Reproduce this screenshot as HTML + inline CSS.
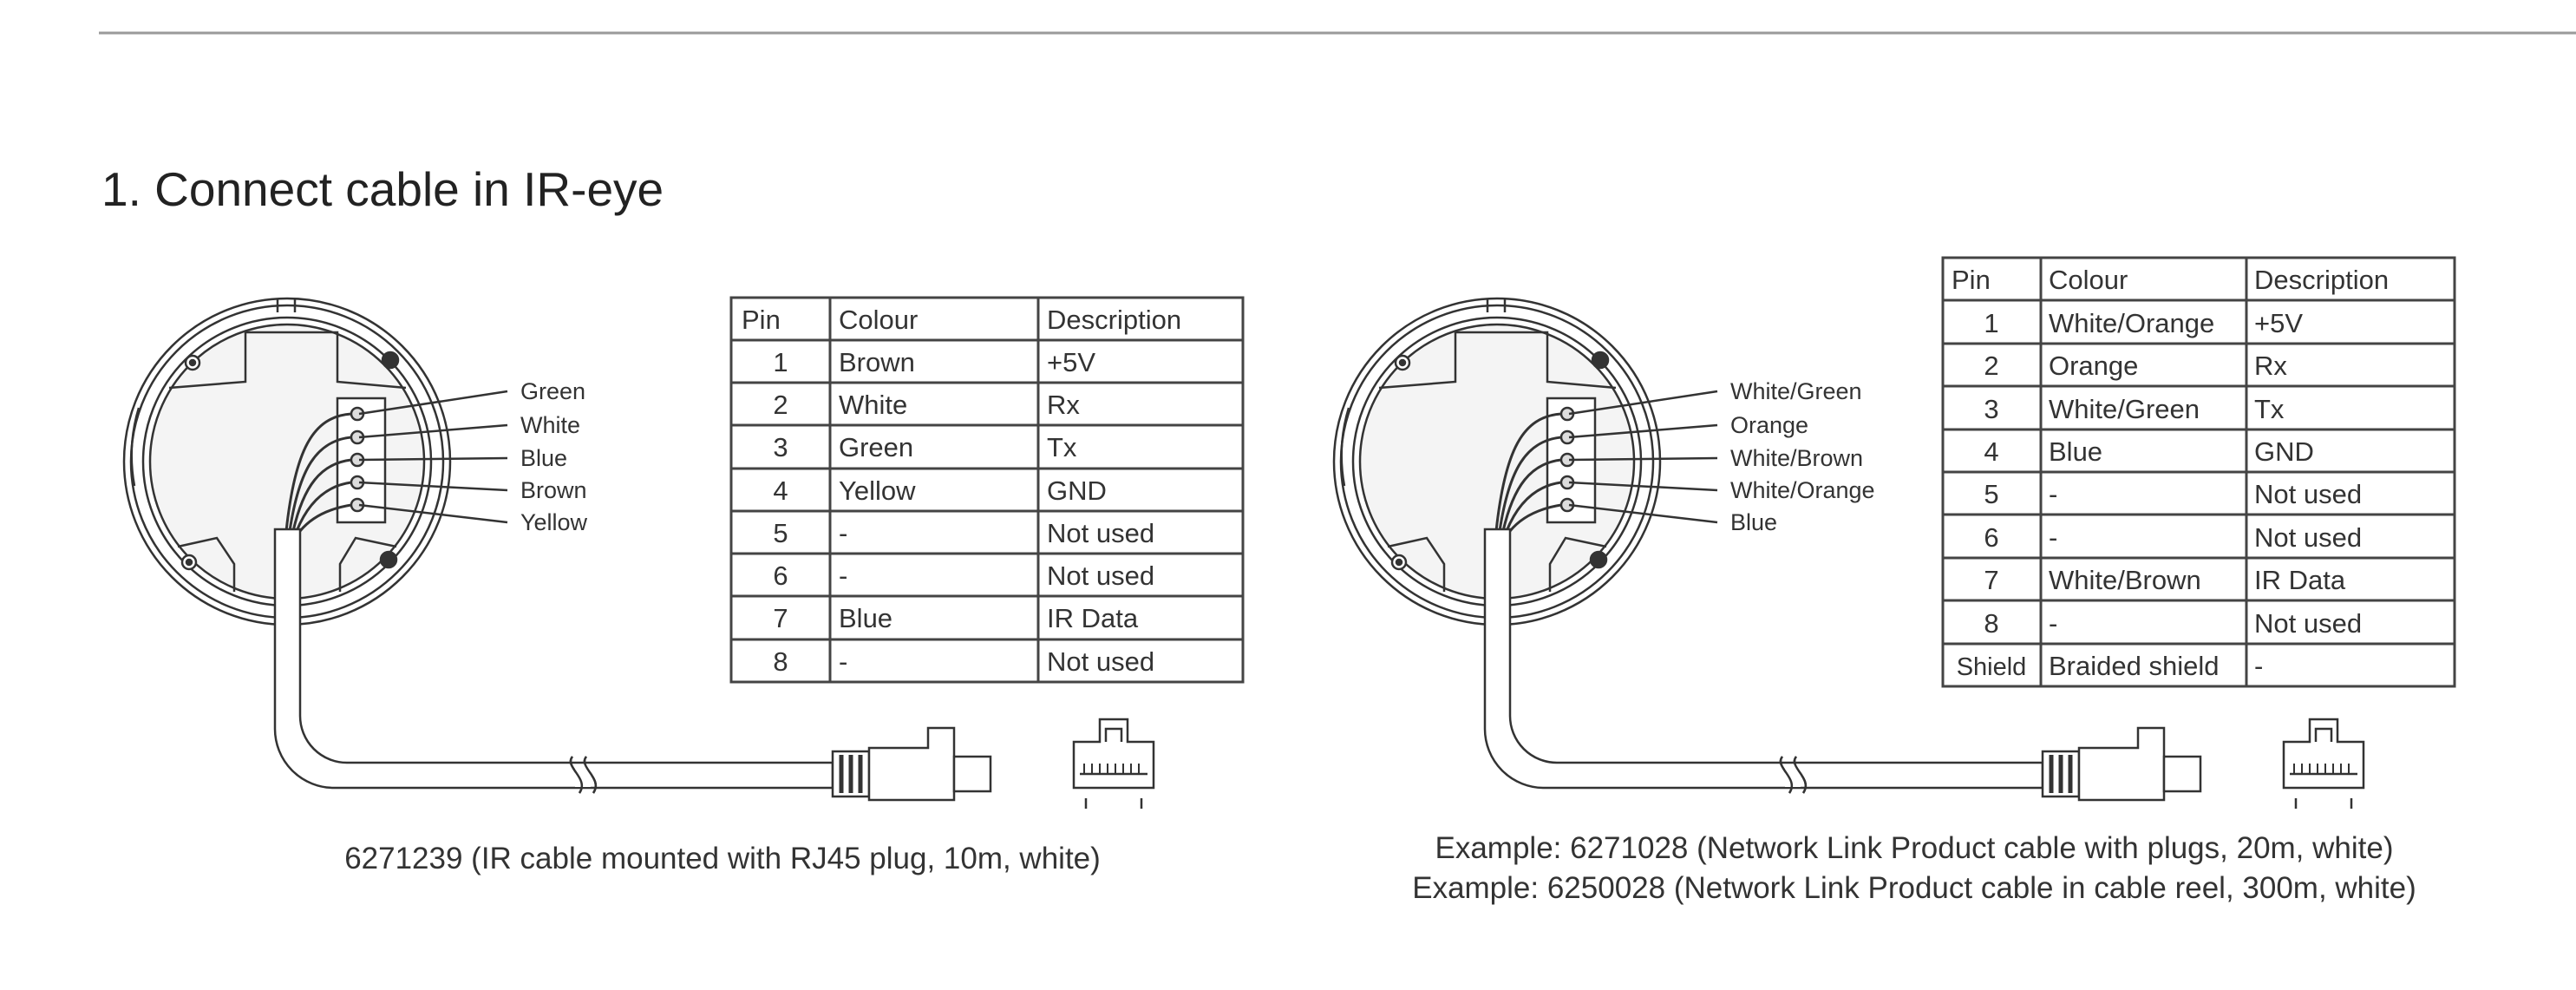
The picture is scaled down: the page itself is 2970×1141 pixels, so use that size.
<!DOCTYPE html>
<html><head><meta charset="utf-8"><style>
body{margin:0;background:#fff;width:2970px;height:1136px;overflow:hidden}
svg text{font-family:"Liberation Sans",sans-serif;fill:#333}
</style></head><body>
<svg width="2970" height="1136" viewBox="0 0 2970 1136" xmlns="http://www.w3.org/2000/svg">
<defs>
<g id="dev" stroke="#333" fill="none" stroke-width="2.5">
  <circle cx="331" cy="532" r="188" fill="#fff"/>
  <circle cx="331" cy="532" r="180"/>
  <circle cx="331" cy="532" r="166"/>
  <circle cx="331" cy="532" r="158" fill="#f4f4f4"/>
  <path d="M195,447 L283,440 L283,383 L389,383 L389,440 L468,447" fill="none"/>
  <path d="M205,630 L250,620 L270,650 L270,682" />
  <path d="M457,630 L410,620 L392,650 L392,682" />
  <path d="M320,345 L320,360 M340,345 L340,360"/>
  <circle cx="222" cy="418" r="8" fill="#fff"/><circle cx="222" cy="418" r="3" fill="#333"/>
  <circle cx="450" cy="415" r="9" fill="#333"/>
  <circle cx="218" cy="648" r="8" fill="#fff"/><circle cx="218" cy="648" r="3" fill="#333"/>
  <circle cx="448" cy="645" r="9" fill="#333"/>
  <path d="M160,470 A190,190 0 0 0 155,560" />
  <rect x="389" y="459" width="55" height="143" fill="#fff"/>
  <g fill="#ddd">
    <circle cx="412" cy="477" r="7"/><circle cx="412" cy="504" r="7"/><circle cx="412" cy="530" r="7"/><circle cx="412" cy="556" r="7"/><circle cx="412" cy="582" r="7"/>
  </g>
  <g stroke-width="3">
    <path d="M405,477 C360,480 340,520 330,612"/>
    <path d="M405,504 C365,508 345,540 334,612"/>
    <path d="M405,530 C370,534 350,560 338,612"/>
    <path d="M405,556 C375,560 355,580 342,612"/>
    <path d="M405,582 C380,586 360,595 346,612"/>
  </g>
  <g stroke-width="2.5">
    <line x1="414" y1="477" x2="585" y2="451"/>
    <line x1="414" y1="504" x2="585" y2="490"/>
    <line x1="414" y1="530" x2="585" y2="528"/>
    <line x1="414" y1="556" x2="585" y2="565"/>
    <line x1="414" y1="582" x2="585" y2="602"/>
  </g>
  <path d="M317,610 L317,840 A68,68 0 0 0 385,908 L960,908 L960,879 L400,879 A54,54 0 0 1 346,825 L346,610 Z" fill="#fff"/>
  <path d="M660,872 C650,884 680,897 668,914 M676,872 C666,884 696,897 684,914" stroke-width="2.5"/>
  <rect x="663" y="881" width="18" height="26" fill="#fff" stroke="none"/>
  <path d="M660,872 C650,884 680,897 668,914 M676,872 C666,884 696,897 684,914" stroke-width="2.5"/>
  <rect x="960" y="866" width="42" height="52" fill="#fff"/>
  <g stroke-width="5"><line x1="970" y1="870" x2="970" y2="914"/><line x1="981" y1="870" x2="981" y2="914"/><line x1="992" y1="870" x2="992" y2="914"/></g>
  <path d="M1002,862 L1070,862 L1070,839 L1100,839 L1100,922 L1002,922 Z" fill="#fff"/>
  <rect x="1100" y="872" width="42" height="40" fill="#fff"/>
  <path d="M1238,908 L1238,855 L1268,855 L1268,829 L1300,829 L1300,855 L1330,855 L1330,908 Z" fill="#fff"/>
  <path d="M1275,855 L1275,840 L1293,840 L1293,855"/>
  <path d="M1245,892 L1323,892" />
  <g stroke-width="2"><line x1="1250" y1="880" x2="1250" y2="892"/><line x1="1259" y1="880" x2="1259" y2="892"/><line x1="1268" y1="880" x2="1268" y2="892"/><line x1="1277" y1="880" x2="1277" y2="892"/><line x1="1286" y1="880" x2="1286" y2="892"/><line x1="1295" y1="880" x2="1295" y2="892"/><line x1="1304" y1="880" x2="1304" y2="892"/><line x1="1313" y1="880" x2="1313" y2="892"/></g>
  <line x1="1252" y1="920" x2="1252" y2="932"/><line x1="1316" y1="920" x2="1316" y2="932"/>
</g>
</defs>
<line x1="114" y1="38" x2="2970" y2="38" stroke="#9a9a9a" stroke-width="3"/>
<text x="117" y="237" font-size="55" style="fill:#222">1. Connect cable in IR-eye</text>
<use href="#dev"/>
<use href="#dev" transform="translate(1395,0)"/>
<g font-size="27">
<text x="600" y="460">Green</text><text x="600" y="499">White</text><text x="600" y="537">Blue</text><text x="600" y="574">Brown</text><text x="600" y="611">Yellow</text>
<text x="1995" y="460">White/Green</text><text x="1995" y="499">Orange</text><text x="1995" y="537">White/Brown</text><text x="1995" y="574">White/Orange</text><text x="1995" y="611">Blue</text>
</g>
<g stroke="#444" stroke-width="3" fill="none">
<rect x="843" y="343" width="590" height="443"/>
<line x1="957" y1="343" x2="957" y2="786"/><line x1="1197" y1="343" x2="1197" y2="786"/>
<line x1="843" y1="392" x2="1433" y2="392"/><line x1="843" y1="441" x2="1433" y2="441"/><line x1="843" y1="490" x2="1433" y2="490"/><line x1="843" y1="540" x2="1433" y2="540"/><line x1="843" y1="589" x2="1433" y2="589"/><line x1="843" y1="638" x2="1433" y2="638"/><line x1="843" y1="687" x2="1433" y2="687"/><line x1="843" y1="737" x2="1433" y2="737"/>
</g>
<g font-size="31">
<text x="855" y="379">Pin</text><text x="967" y="379">Colour</text><text x="1207" y="379">Description</text>
<g text-anchor="middle"><text x="900" y="428">1</text><text x="900" y="477">2</text><text x="900" y="526">3</text><text x="900" y="576">4</text><text x="900" y="625">5</text><text x="900" y="674">6</text><text x="900" y="723">7</text><text x="900" y="773">8</text></g>
<text x="967" y="428">Brown</text><text x="967" y="477">White</text><text x="967" y="526">Green</text><text x="967" y="576">Yellow</text><text x="967" y="625">-</text><text x="967" y="674">-</text><text x="967" y="723">Blue</text><text x="967" y="773">-</text>
<text x="1207" y="428">+5V</text><text x="1207" y="477">Rx</text><text x="1207" y="526">Tx</text><text x="1207" y="576">GND</text><text x="1207" y="625">Not used</text><text x="1207" y="674">Not used</text><text x="1207" y="723">IR Data</text><text x="1207" y="773">Not used</text>
</g>
<g stroke="#444" stroke-width="3" fill="none">
<rect x="2240" y="297" width="590" height="494"/>
<line x1="2353" y1="297" x2="2353" y2="791"/><line x1="2590" y1="297" x2="2590" y2="791"/>
<line x1="2240" y1="346" x2="2830" y2="346"/><line x1="2240" y1="396" x2="2830" y2="396"/><line x1="2240" y1="445" x2="2830" y2="445"/><line x1="2240" y1="495" x2="2830" y2="495"/><line x1="2240" y1="544" x2="2830" y2="544"/><line x1="2240" y1="593" x2="2830" y2="593"/><line x1="2240" y1="643" x2="2830" y2="643"/><line x1="2240" y1="692" x2="2830" y2="692"/><line x1="2240" y1="742" x2="2830" y2="742"/>
</g>
<g font-size="31">
<text x="2250" y="333">Pin</text><text x="2362" y="333">Colour</text><text x="2599" y="333">Description</text>
<g text-anchor="middle"><text x="2296" y="383">1</text><text x="2296" y="432">2</text><text x="2296" y="482">3</text><text x="2296" y="531">4</text><text x="2296" y="580">5</text><text x="2296" y="630">6</text><text x="2296" y="679">7</text><text x="2296" y="729">8</text><text x="2296" y="778" font-size="29">Shield</text></g>
<text x="2362" y="383">White/Orange</text><text x="2362" y="432">Orange</text><text x="2362" y="482">White/Green</text><text x="2362" y="531">Blue</text><text x="2362" y="580">-</text><text x="2362" y="630">-</text><text x="2362" y="679">White/Brown</text><text x="2362" y="729">-</text><text x="2362" y="778">Braided shield</text>
<text x="2599" y="383">+5V</text><text x="2599" y="432">Rx</text><text x="2599" y="482">Tx</text><text x="2599" y="531">GND</text><text x="2599" y="580">Not used</text><text x="2599" y="630">Not used</text><text x="2599" y="679">IR Data</text><text x="2599" y="729">Not used</text><text x="2599" y="778">-</text>
</g>
<g font-size="35" text-anchor="middle">
<text x="833" y="1001">6271239 (IR cable mounted with RJ45 plug, 10m, white)</text>
<text x="2207" y="989">Example: 6271028 (Network Link Product cable with plugs, 20m, white)</text>
<text x="2207" y="1035">Example: 6250028 (Network Link Product cable in cable reel, 300m, white)</text>
</g>
</svg>
</body></html>
